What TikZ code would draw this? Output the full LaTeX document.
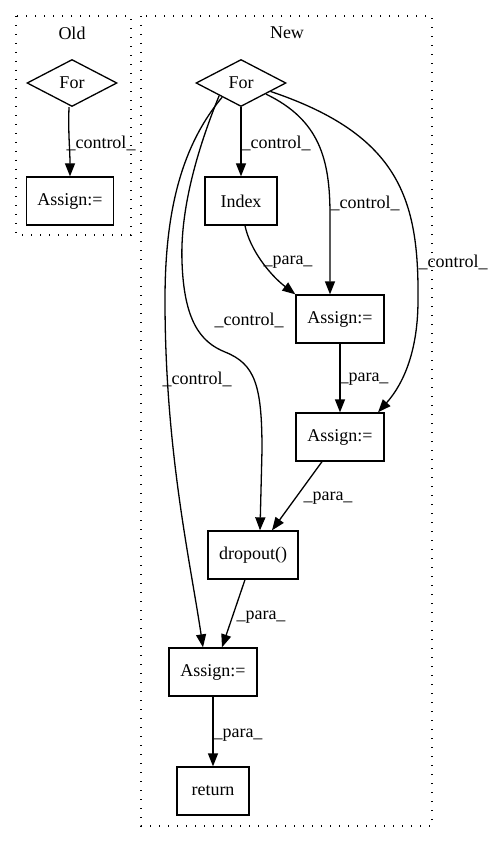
\documentclass[tikz,border=0pt]{standalone}
\usepackage{fontspec}
\setmainfont{Liberation Serif}
\usetikzlibrary{shapes.geometric,arrows.meta}
\begin{document}
\begin{tikzpicture}[x=1pt,y=-1pt,
  every node/.style={font=\fontsize{18}{20}\selectfont},
  box/.style={draw,line width=1.3pt,rectangle,inner sep=0pt},
  dia/.style={draw,line width=1.3pt,diamond,aspect=1.9,inner sep=0pt,minimum width=90pt,minimum height=47pt},
  cluster/.style={draw,line width=1.4pt,dash pattern=on 1.4pt off 7.6pt},
  edge/.style={line width=1.3pt,-{Triangle[length=13pt,width=10pt]}},
  lbl/.style={inner sep=0pt}]
\useasboundingbox (0,0) rectangle (493,842);
% clusters
\draw[cluster] (16,16) rectangle (131,235);
\draw[cluster] (141,16) rectangle (432,826);
\node[lbl] (lold) at (72,33) {Old};
\node[lbl] (lnew) at (287,33) {New};
% Old
\node[dia] (of) at (72,83) {For};
\node[box,minimum width=87pt,minimum height=48pt] (oa) at (70,201) {Assign:=};
\draw[edge] (of.south) ++(-3,0) coordinate (ofs) (ofs) to[out=-92,in=90] (oa.north);
\node[lbl] (l0) at (101,143) {\_control\_};
% New
\node[dia] (nf) at (241,83) {For};
\node[box,minimum width=72pt,minimum height=48pt] (idx) at (241,201) {Index};
\node[box,minimum width=88pt,minimum height=48pt] (a1) at (340,319) {Assign:=};
\node[box,minimum width=88pt,minimum height=48pt] (a2) at (340,437) {Assign:=};
\node[box,minimum width=90pt,minimum height=48pt] (dr) at (253,555) {dropout()};
\node[box,minimum width=88pt,minimum height=48pt] (a3) at (213,672) {Assign:=};
\node[box,minimum width=72pt,minimum height=48pt] (ret) at (213,791) {return};
% edges
\draw[edge] (nf.south) -- (idx.north);
\node[lbl] (l1) at (276,143) {\_control\_};
\draw[edge] (nf.-24) .. controls (320,120) and (330,160) .. (330,215) -- ([xshift=-10pt]a1.north);
\node[lbl] (l2) at (365,203) {\_control\_};
\draw[edge] (nf.-16) .. controls (400,135) and (419,200) .. (418,300) .. controls (418,360) and (398,390) .. ([xshift=38pt]a2.north);
\node[lbl] (l3) at (453,262) {\_control\_};
\draw[edge] (nf.-150) .. controls (197,150) and (180,210) .. (182,262) .. controls (184,320) and (200,342) .. (225,352) .. controls (255,364) and (262,385) .. (262,450) -- ([xshift=7pt]dr.north);
\node[lbl] (l4) at (249,320) {\_control\_};
\draw[edge] (nf.-143) .. controls (178,150) and (165,220) .. (165,300) .. controls (165,450) and (190,560) .. ([xshift=-10pt]a3.north);
\node[lbl] (l5) at (197,379) {\_control\_};
\draw[edge] ([xshift=4pt]idx.south) .. controls (250,250) and (270,275) .. (a1.north west);
\node[lbl] (l6) at (288,262) {\_para\_};
\draw[edge] (a1.south) -- (a2.north);
\node[lbl] (l7) at (364,379) {\_para\_};
\draw[edge] ([xshift=-18pt]a2.south) -- ([xshift=19pt]dr.north);
\node[lbl] (l8) at (328,498) {\_para\_};
\draw[edge] ([xshift=-8pt]dr.south) -- ([xshift=9pt]a3.north);
\node[lbl] (l9) at (261,617) {\_para\_};
\draw[edge] (a3.south) -- (ret.north);
\node[lbl] (l10) at (238,735) {\_para\_};
\end{tikzpicture}
\end{document}
